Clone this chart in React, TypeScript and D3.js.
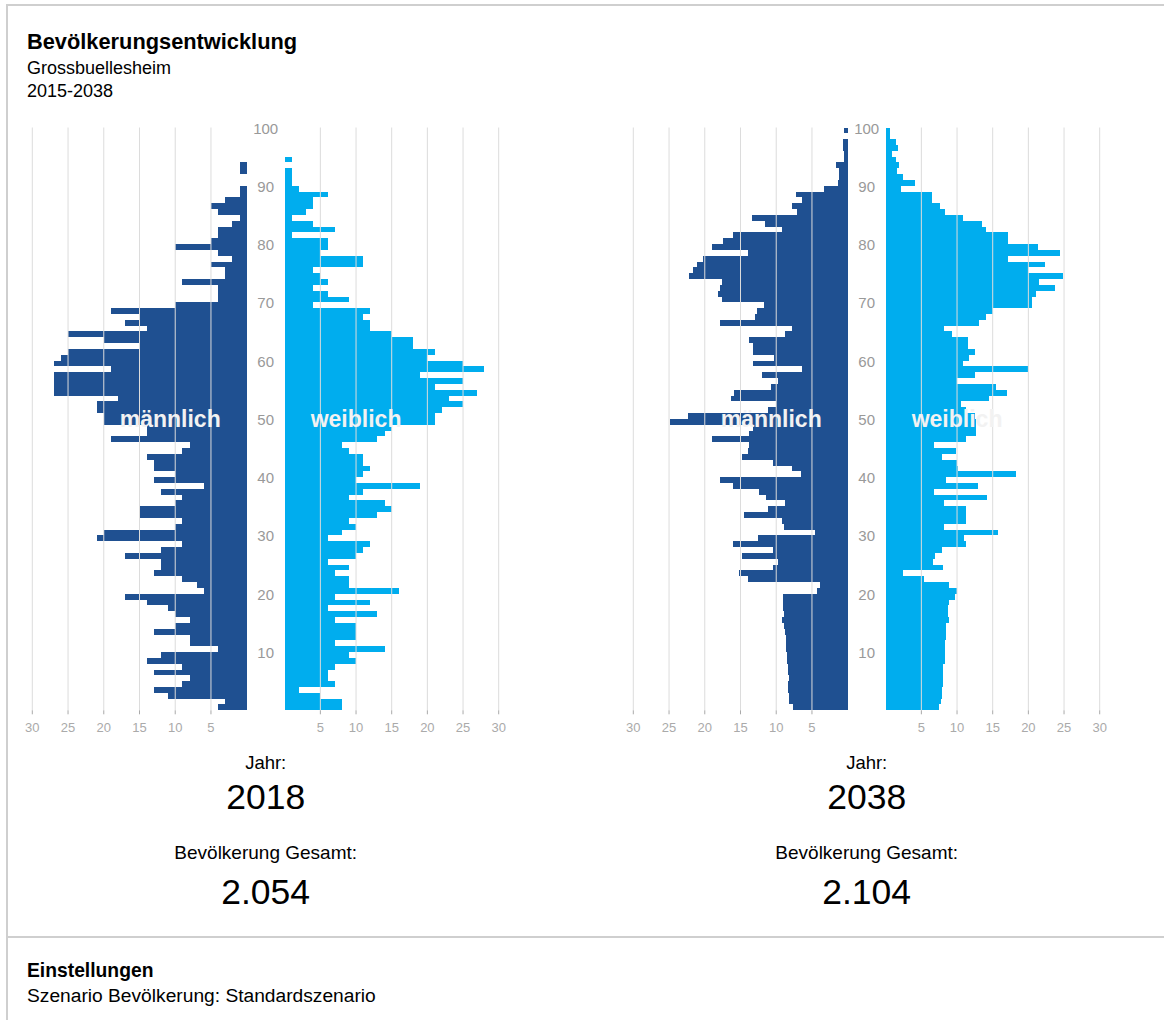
import React, { useEffect, useRef } from "react";
import * as d3 from "d3";

// age 0 .. 99, one bar per age
const ages = d3.range(0, 100);
const xTicks = [5, 10, 15, 20, 25, 30];
const ageTicks = [10, 20, 30, 40, 50, 60, 70, 80, 90, 100];

const years = ["2018", "2038"];
const totals = ["2.054", "2.104"];

const male2018 = [
  4, 3, 11, 13, 9, 8, 13, 9, 14, 12,
  4, 8, 8, 13, 10, 8, 10, 11, 14, 17,
  6, 7, 9, 13, 12, 12, 17, 12, 9, 21,
  20, 10, 9, 15, 15, 10, 9, 12, 6, 13,
  10, 13, 13, 14, 9, 8, 19, 14, 14, 20,
  20, 21, 21, 18, 27, 27, 27, 27, 19, 27,
  26, 25, 15, 20, 25, 14, 17, 15, 19, 10,
  4, 4, 4, 9, 3, 3, 5, 2, 4, 10,
  5, 4, 4, 2, 1, 4, 5, 3, 1, 1,
  0, 0, 1, 1, 0, 0, 0, 0, 0, 0,
];

const female2018 = [
  8, 8, 5, 2, 7, 6, 6, 7, 10, 9,
  14, 7, 10, 10, 10, 7, 13, 6, 12, 7,
  16, 9, 9, 7, 9, 6, 10, 11, 12, 6,
  8, 10, 9, 13, 15, 14, 9, 11, 19, 10,
  11, 12, 11, 11, 9, 8, 13, 14, 15, 21,
  21, 22, 25, 23, 27, 21, 25, 19, 28, 25,
  20, 21, 18, 18, 15, 12, 12, 11, 12, 4,
  9, 6, 4, 6, 5, 4, 11, 11, 5, 6,
  6, 1, 7, 4, 1, 3, 4, 4, 6, 2,
  1, 1, 1, 0, 1, 0, 0, 0, 0, 0,
];

const male2038 = [
  7.7, 8.2, 8.2, 8.3, 8.3, 8.2, 8.3, 8.4, 8.5, 8.5,
  8.6, 8.6, 8.7, 8.8, 8.9, 9.2, 8.9, 9.0, 9.1, 9.1,
  4.3, 3.9, 14.0, 15.2, 10.5, 9.7, 14.8, 10.4, 16.0, 12.6,
  4.6, 8.9, 9.2, 14.5, 11.2, 8.8, 11.5, 12.4, 16.1, 17.9,
  6.6, 7.8, 10.4, 14.8, 14.0, 13.8, 19.0, 13.8, 13.2, 24.8,
  22.3, 11.1, 10.1, 16.3, 15.9, 10.8, 9.7, 12.0, 6.4, 13.3,
  10.3, 13.2, 13.2, 13.8, 8.8, 7.8, 17.9, 13.0, 12.7, 11.7,
  17.6, 18.1, 17.9, 17.6, 22.2, 21.6, 21.1, 20.2, 13.9, 19.0,
  17.5, 16.0, 9.2, 11.6, 13.4, 7.1, 7.8, 6.4, 7.2, 3.3,
  1.3, 1.2, 1.2, 1.7, 0.5, 0.5, 0.6, 0.6, 0, 0.5,
];

const female2038 = [
  7.5, 7.7, 7.9, 7.9, 8.1, 8.1, 8.1, 8.1, 8.3, 8.3,
  8.3, 8.3, 8.4, 8.4, 8.5, 8.9, 8.7, 8.7, 8.9, 9.7,
  10.0, 8.9, 5.3, 2.4, 8.0, 6.6, 6.9, 7.9, 11.3, 11.0,
  15.8, 8.2, 11.2, 11.3, 11.2, 8.2, 14.2, 6.8, 13.0, 8.4,
  18.3, 10.1, 10.0, 7.9, 9.8, 6.8, 11.3, 12.7, 12.7, 12.7,
  12.5, 11.3, 10.5, 14.5, 17.0, 15.4, 10.0, 12.5, 20.0, 10.8,
  11.7, 12.5, 11.5, 11.5, 9.3, 8.2, 13.1, 14.0, 15.0, 20.5,
  20.5, 21.1, 23.8, 21.5, 24.8, 20.0, 22.4, 17.1, 24.4, 21.3,
  17.1, 17.1, 14.1, 13.5, 10.8, 8.3, 7.6, 6.5, 6.5, 2.2,
  4.1, 2.4, 1.6, 1.8, 1.4, 0.9, 1.7, 1.4, 0.6, 0.6,
];

const maleSeries = [male2018, male2038];
const femaleSeries = [female2018, female2038];

const MALE = "#1f5091";
const FEMALE = "#00adee";
const FONT = "'Liberation Sans', Arial, Helvetica, sans-serif";

export default function App() {
  const ref = useRef<SVGSVGElement>(null);

  useEffect(() => {
    const svg = d3.select(ref.current);
    svg.selectAll("*").remove();
    svg.style("font-family", FONT);

    // frame
    const frame = svg.append("g").attr("stroke", "#cfcfcf").attr("stroke-width", 2);
    frame.append("line").attr("x1", 6).attr("x2", 1164).attr("y1", 5).attr("y2", 5);
    frame.append("line").attr("x1", 7).attr("x2", 7).attr("y1", 4).attr("y2", 1020);
    frame.append("line").attr("x1", 7).attr("x2", 1164).attr("y1", 937).attr("y2", 937);

    // header
    svg.append("text").attr("x", 27).attr("y", 49).attr("font-size", 21.8)
      .attr("font-weight", "bold").text("Bevölkerungsentwicklung");
    svg.append("text").attr("x", 27).attr("y", 74).attr("font-size", 18).text("Grossbuellesheim");
    svg.append("text").attr("x", 27).attr("y", 97).attr("font-size", 18).text("2015-2038");

    // footer
    svg.append("text").attr("x", 27).attr("y", 977).attr("font-size", 19.3)
      .attr("font-weight", "bold").text("Einstellungen");
    svg.append("text").attr("x", 27).attr("y", 1002).attr("font-size", 19.2)
      .text("Szenario Bevölkerung: Standardszenario");

    const y = d3.scaleLinear().domain([0, 100]).range([710.3, 127.5]);

    years.forEach((year, i) => {
      const off = i * 601;
      const mz = 246.7 + off;
      const fz = 284.7 + off;
      const xm = d3.scaleLinear().domain([0, 30]).range([mz, mz - 214.4]);
      const xf = d3.scaleLinear().domain([0, 30]).range([fz, fz + 214]);
      const mid = (mz + fz) / 2;
      const g = svg.append("g");

      g.selectAll(".male")
        .data(maleSeries[i])
        .enter()
        .append("rect")
        .attr("x", (d) => xm(d))
        .attr("width", (d) => mz - xm(d))
        .attr("y", (d, a) => y(ages[a] + 1))
        .attr("height", (d, a) => y(ages[a]) - y(ages[a] + 1))
        .attr("shape-rendering", "crispEdges")
        .attr("fill", MALE);

      g.selectAll(".female")
        .data(femaleSeries[i])
        .enter()
        .append("rect")
        .attr("x", fz)
        .attr("width", (d) => xf(d) - fz)
        .attr("y", (d, a) => y(ages[a] + 1))
        .attr("height", (d, a) => y(ages[a]) - y(ages[a] + 1))
        .attr("shape-rendering", "crispEdges")
        .attr("fill", FEMALE);

      // grid lines drawn over the bars, ticks and labels
      [xm, xf].forEach((x) => {
        xTicks.forEach((t) => {
          g.append("line")
            .attr("x1", x(t)).attr("x2", x(t))
            .attr("y1", y(100)).attr("y2", y(0))
            .attr("stroke", "#dcdcdc").attr("stroke-width", 1);
          g.append("line")
            .attr("x1", x(t)).attr("x2", x(t))
            .attr("y1", y(0)).attr("y2", y(0) + 4)
            .attr("stroke", "#aaa").attr("stroke-width", 1);
          g.append("text")
            .attr("x", x(t)).attr("y", 732)
            .attr("text-anchor", "middle")
            .attr("font-size", 13).attr("fill", "#aaa")
            .text(t);
        });
      });

      ageTicks.forEach((t) => {
        g.append("text")
          .attr("x", mid).attr("y", y(t) + 6)
          .attr("text-anchor", "middle")
          .attr("font-size", 15).attr("fill", "#999")
          .text(t);
      });

      g.append("text")
        .attr("x", mz - 26).attr("y", 427)
        .attr("text-anchor", "end")
        .attr("font-size", 23).attr("font-weight", "bold")
        .attr("fill", "#f2f2f2")
        .text("männlich");
      g.append("text")
        .attr("x", fz + 26).attr("y", 427)
        .attr("text-anchor", "start")
        .attr("font-size", 23).attr("font-weight", "bold")
        .attr("fill", "#f2f2f2")
        .text("weiblich");

      const info = g.append("g").attr("text-anchor", "middle").attr("fill", "#000");
      info.append("text").attr("x", mid).attr("y", 769).attr("font-size", 18.5).text("Jahr:");
      info.append("text").attr("x", mid).attr("y", 809).attr("font-size", 35.5).text(year);
      info.append("text").attr("x", mid).attr("y", 859).attr("font-size", 19).text("Bevölkerung Gesamt:");
      info.append("text").attr("x", mid).attr("y", 904).attr("font-size", 35.5).text(totals[i]);
    });
  }, []);

  return (
    <div style={{ position: "absolute", left: 0, top: 0 }}>
      <svg ref={ref} width={1164} height={1020} />
    </div>
  );
}
